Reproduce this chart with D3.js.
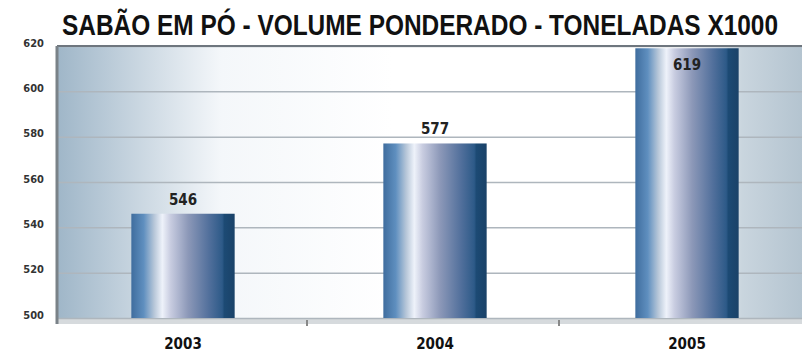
<!DOCTYPE html>
<html>
<head>
<meta charset="utf-8">
<script src="https://cdn.jsdelivr.net/npm/d3@7"></script>
<style>
  body { margin: 0; background: #fff; }
  svg { display: block; }
</style>
</head>
<body>
<svg id="chart" width="802" height="358"></svg>
<script>
var years = ["2003", "2004", "2005"];
var volume = [546, 577, 619];
var yTicks = [500, 520, 540, 560, 580, 600, 620];
var title = "SABÃO EM PÓ - VOLUME PONDERADO - TONELADAS X1000";

var W = 802, H = 358;
var m = { top: 46, right: 0, bottom: 40, left: 57 };
var pw = W - m.left - m.right, ph = H - m.top - m.bottom;

var svg = d3.select("#chart");
var defs = svg.append("defs");

// plot background: blue-grey on the sides, white in the middle
var bg = defs.append("linearGradient").attr("id", "bg");
[[0, "#9fb6c8"], [0.22, "#f4f7fa"], [0.45, "#ffffff"], [0.85, "#ffffff"], [0.92, "#c9d5de"], [1, "#b4c4d0"]]
  .forEach(function(s) { bg.append("stop").attr("offset", s[0]).attr("stop-color", s[1]); });

// cylinder-like bar shading
var bar = defs.append("linearGradient").attr("id", "bar");
[[0, "#3f6d9e"], [0.12, "#5f8fbf"], [0.22, "#b6c6d8"], [0.3, "#eef2fa"], [0.38, "#c8cce0"],
 [0.55, "#8c98b8"], [0.75, "#52709c"], [0.88, "#2d5a88"], [0.9, "#1c4a74"], [1, "#1a4268"]]
  .forEach(function(s) { bar.append("stop").attr("offset", s[0]).attr("stop-color", s[1]); });

var g = svg.append("g").attr("transform", "translate(" + m.left + "," + m.top + ")");

// band range runs a bit past the right edge, like the original
var x = d3.scaleBand().domain(years).range([0, 756]).paddingInner(0.59).paddingOuter(0.295);
var y = d3.scaleLinear().domain([500, 620]).range([ph, 0]);

g.append("rect").attr("width", pw).attr("height", ph).attr("fill", "url(#bg)");

// floor
g.append("rect").attr("y", ph).attr("width", pw).attr("height", 6).attr("fill", "#d6dadd");

// gridlines
g.append("g")
  .call(d3.axisLeft(y).tickValues(yTicks).tickSize(-pw).tickFormat(""))
  .call(function(a) {
    a.select(".domain").remove();
    a.selectAll("line").attr("stroke", "#aeb6bd").attr("stroke-width", 1.5);
  });

// top border and left axis
g.append("line").attr("x1", 0).attr("x2", pw).attr("y1", 0).attr("y2", 0)
  .attr("stroke", "#6e767e").attr("stroke-width", 2);
g.append("line").attr("x1", 0).attr("x2", 0).attr("y1", 0).attr("y2", ph + 6)
  .attr("stroke", "#7a8288").attr("stroke-width", 3);

// y tick labels
g.append("g")
  .call(d3.axisLeft(y).tickValues(yTicks).tickSize(0).tickPadding(13))
  .call(function(a) {
    a.select(".domain").remove();
    a.selectAll("text").attr("fill", "#333").attr("font-family", "DejaVu Sans Condensed, sans-serif")
      .attr("font-weight", "bold").attr("font-size", 11).attr("dy", "0");
  });

// small ticks between categories
g.selectAll(".sep").data(years.slice(1)).enter().append("line")
  .attr("x1", function(d) { return x(d) - x.step() * x.paddingInner() / 2 - 2; })
  .attr("x2", function(d) { return x(d) - x.step() * x.paddingInner() / 2 - 2; })
  .attr("y1", ph + 2).attr("y2", ph + 8)
  .attr("stroke", "#888").attr("stroke-width", 2);

// bars
g.selectAll(".bar").data(volume).enter().append("rect")
  .attr("x", function(d, i) { return x(years[i]); })
  .attr("y", function(d) { return y(d); })
  .attr("width", x.bandwidth())
  .attr("height", function(d) { return ph - y(d); })
  .attr("fill", "url(#bar)");

// value labels
g.selectAll(".val").data(volume).enter().append("text")
  .attr("x", function(d, i) { return x(years[i]) + x.bandwidth() / 2; })
  .attr("y", function(d) { return y(d) < 20 ? y(d) + 22 : y(d) - 9; })
  .attr("text-anchor", "middle")
  .attr("font-family", "DejaVu Sans Condensed, sans-serif").attr("font-weight", "bold")
  .attr("font-size", 15).attr("fill", "#222")
  .text(function(d) { return d; });

// category labels
g.append("g").attr("transform", "translate(0," + ph + ")")
  .call(d3.axisBottom(x).tickSize(0).tickPadding(20))
  .call(function(a) {
    a.select(".domain").remove();
    a.selectAll("text").attr("fill", "#111").attr("font-family", "DejaVu Sans Condensed, sans-serif")
      .attr("font-weight", "bold").attr("font-size", 15);
  });

// title: slightly stretched vertically to mimic the condensed original face
svg.append("text").attr("transform", "translate(62,35) scale(1,1.2)")
  .attr("textLength", 716).attr("lengthAdjust", "spacingAndGlyphs")
  .attr("font-family", "Liberation Sans, Arial, sans-serif").attr("font-weight", "bold")
  .attr("font-size", 24).attr("fill", "#111")
  .text(title);
</script>
</body>
</html>
